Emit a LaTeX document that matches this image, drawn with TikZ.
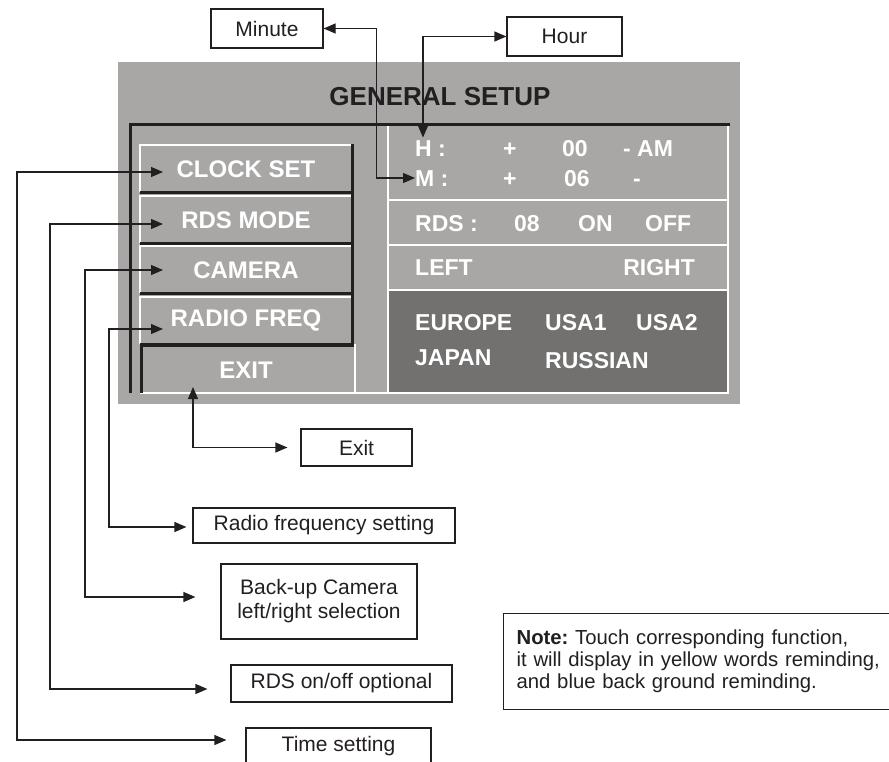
\documentclass[tikz,border=0pt]{standalone}
\usepackage{fontspec}
\setmainfont{Liberation Sans}
\usetikzlibrary{arrows.meta}
\definecolor{panel}{RGB}{168,167,166}
\definecolor{darkpanel}{RGB}{114,113,112}
\definecolor{ink}{RGB}{35,31,32}
\tikzset{
	lbl/.style={draw=ink, line width=1.2pt, text=ink, font=\fontsize{21}{24}\selectfont, inner sep=0pt, align=center},
	menu/.style={text=white, font=\bfseries\fontsize{24}{26}\selectfont, inner sep=0pt},
	scr/.style={text=white, font=\bfseries\fontsize{23}{25}\selectfont, inner sep=0pt, anchor=west, text height=16.5pt, text depth=0pt},
	conn/.style={draw=ink, line width=1.2pt, {Triangle[length=12pt,width=10pt]}-{Triangle[length=12pt,width=10pt]}},
	hi/.style={white, line width=2.5pt},
	lo/.style={ink, line width=3pt},
}
\begin{document}
\begin{tikzpicture}[x=1pt,y=-1pt]
\useasboundingbox (0,0) rectangle (889,761);

\fill[panel] (118,62) rectangle (740,404);
\node[font=\bfseries\fontsize{26}{28}\selectfont, text=ink, inner sep=0pt] (ttl) at (440,97) {GENERAL SETUP};

\fill[darkpanel] (389,290) rectangle (727,392);
\draw[hi] (388,126) -- (388,393);
\draw[hi] (728,126) -- (728,393);
\draw[hi] (140,393) -- (729,393);
\foreach \y in {200,245,290}{
	\draw[white, line width=1.5pt] (389,\y) -- (727,\y);
}
\draw[ink, line width=3pt] (130,393) -- (130,124) -- (730,124);

\foreach [count=\i] \t/\y/\a/\lab in {
	145/169/172/CLOCK SET
	,196/220/224/RDS MODE
	,246/270/270/CAMERA
	,297/320/329/RADIO FREQ
}{
	\draw[hi] (140,\t+47) -- (140,\t) -- (352,\t);
	\draw[lo] (140,\t+47) -- (352,\t+47);
	\node[menu] (m\i) at (246,\y) {\lab};
	\coordinate (c\i) at (163,\a);
}
\draw[lo] (352,144) -- (352,345);
\draw[lo] (141,393) -- (141,345) -- (354,345);
\draw[hi] (355,344) -- (355,393);
\node[menu] (m5) at (246,370) {EXIT};
\coordinate (c5) at (193,387);

\node[scr] (hh) at (415,148) {H :};
\node[scr] (mm) at (415,178) {M :};
\foreach [count=\k] \x/\y/\t in {
	503/148/+
	,562/148/00
	,623/148/- AM
	,503/178/+
	,564/178/06
	,633/178/-
	,415/223/RDS :
	,514/223/08
	,578/223/ON
	,645/223/OFF
	,415/267/LEFT
	,415/322/EUROPE
	,545/322/USA1
	,636/322/USA2
	,415/357/JAPAN
	,545/360/RUSSIAN
}{
	\node[scr] (s\k) at (\x,\y) {\t};
}
\node[scr, anchor=east] (rgt) at (695,267) {RIGHT};

\node[lbl, minimum width=112pt, minimum height=39pt] (min) at (267,28.5) {Minute};
\node[lbl, minimum width=115pt, minimum height=39pt] (hour) at (564.5,36.5) {Hour};
\node[lbl, minimum width=111pt, minimum height=37pt] (ext) at (356.5,447.5) {Exit};
\node[lbl, minimum width=262pt, minimum height=35pt] (rad) at (324,525.5) {Radio frequency setting};
\node[lbl, minimum width=196pt, minimum height=75pt] (cam) at (319,601.5) {Back-up Camera\\left/right selection};
\node[lbl, minimum width=221pt, minimum height=37pt] (rdo) at (341.5,683.5) {RDS on/off optional};
\node[lbl, minimum width=185pt, minimum height=36pt] (tim) at (338.5,746) {Time setting};
\node[lbl, anchor=north west, align=left, text width=400pt, inner xsep=13pt, minimum height=96pt,
	font=\fontsize{20.3}{22}\selectfont\frenchspacing] (note) at (503,613)
	{\textbf{Note:} Touch corresponding function,\\it will display in yellow words reminding,\\and blue back ground reminding.};

\draw[conn] (min.east) -- ++(53,0) |- (mm.west);
\draw[conn] (hour.west) -| ([xshift=8pt,yshift=2pt]hh.north west);

\foreach \i/\dx/\b/\gap/\dy in {
	1/-146/tim/-19pt/6pt
	,2/-113/rdo/-23pt/-5.5pt
	,3/-78/cam/-25pt/4.5pt
	,4/-54/rad/-6pt/-1.5pt
}{
	\draw[conn] (c\i) -- ++(\dx,0) |- ([xshift=\gap,yshift=\dy]\b.west);
}
\draw[conn] (c5) |- ([xshift=-13pt]ext.west);

\end{tikzpicture}
\end{document}
